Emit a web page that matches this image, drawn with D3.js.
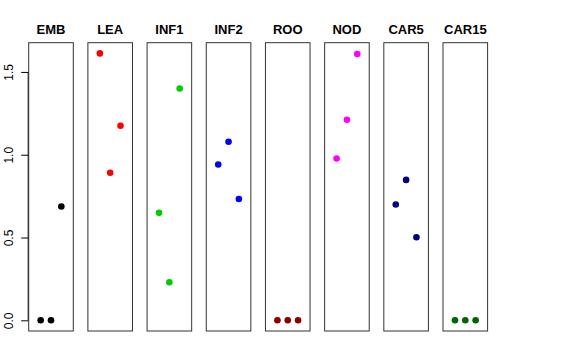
<!DOCTYPE html>
<html>
<head>
<meta charset="utf-8">
<script src="https://cdn.jsdelivr.net/npm/d3@7"></script>
<style>
  body { margin: 0; background: #fff; }
  svg { display: block; font-family: "Liberation Sans", Arial, sans-serif; }
</style>
</head>
<body>
<svg id="chart" width="576" height="360"></svg>
<script>
// panels, one per tissue
const tissues = ['EMB', 'LEA', 'INF1', 'INF2', 'ROO', 'NOD', 'CAR5', 'CAR15'];
const colors = ['#000000', '#FF0000', '#00CD00', '#0000FF', '#8B0000', '#FF00FF', '#000080', '#006400'];
// three points per panel (x = 1, 2, 3)
const values = [
  [0, 0, 0.687],
  [1.612, 0.891, 1.175],
  [0.649, 0.230, 1.400],
  [0.941, 1.078, 0.733],
  [0, 0, 0],
  [0.977, 1.211, 1.608],
  [0.699, 0.848, 0.502],
  [0, 0, 0]
];
const yTicks = [0, 0.5, 1.0, 1.5];

const svg = d3.select('#chart');

// layout
const plotTop = 42.7, plotBottom = 331;
const yMax = d3.max(values.flat());
const y = d3.scaleLinear()
  .domain([-0.04 * yMax, 1.04 * yMax])
  .range([plotBottom, plotTop]);

const band = d3.scaleBand()
  .domain(tissues)
  .range([28.7, 487.6])
  .paddingInner(0.2465)
  .paddingOuter(0);

const x = d3.scaleLinear()
  .domain([-0.16, 4.16])
  .range([0, band.bandwidth()]);

// y axis
const axis = svg.append('g')
  .attr('transform', `translate(${band(tissues[0])},0)`)
  .call(d3.axisLeft(y).tickValues(yTicks).tickSize(7.5).tickFormat(d3.format('.1f')));
axis.select('.domain').attr('d', `M-0.5,${y(0)}V${y(1.5)}`).attr('stroke', '#000');
axis.selectAll('.tick line').attr('stroke', '#000');
axis.selectAll('.tick text')
  .attr('font-size', 12)
  .attr('fill', '#000')
  .attr('transform', 'rotate(-90)')
  .attr('x', 0)
  .attr('y', -16)
  .attr('dy', 0)
  .attr('text-anchor', 'middle');

// panels
tissues.forEach((t, i) => {
  const g = svg.append('g').attr('transform', `translate(${band(t)},0)`);

  g.append('rect')
    .attr('x', 0)
    .attr('y', plotTop)
    .attr('width', band.bandwidth())
    .attr('height', plotBottom - plotTop)
    .attr('fill', 'none')
    .attr('stroke', '#333')
    .attr('stroke-width', 1);

  g.append('text')
    .attr('x', band.bandwidth() / 2)
    .attr('y', 33.5)
    .attr('text-anchor', 'middle')
    .attr('font-size', 13)
    .attr('font-weight', 'bold')
    .text(t);

  g.selectAll('circle')
    .data(values[i])
    .join('circle')
    .attr('cx', (d, j) => x(j + 1))
    .attr('cy', d => y(d))
    .attr('r', 3.3)
    .attr('fill', colors[i]);
});
</script>
</body>
</html>
